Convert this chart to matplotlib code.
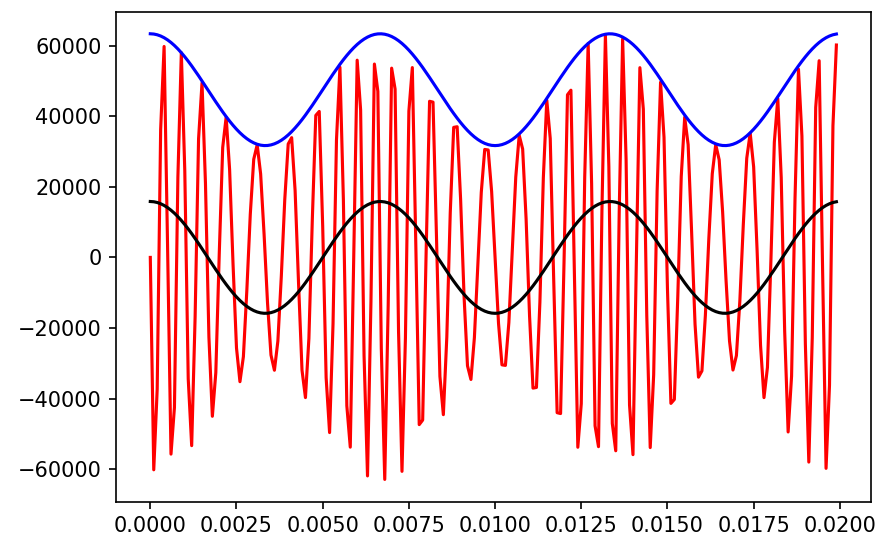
import numpy as np
import matplotlib
matplotlib.use("Agg")
import matplotlib.pyplot as plt

# 信号のパラメータ
fs = 10000          # sample rate [Hz]
duration = 0.02     # [s]
fc = 1500           # carrier [Hz]
fm = 150            # message [Hz]
Ac = 47500          # carrier amplitude
Am = 15833          # message amplitude
beta = 3.33         # phase deviation

t = np.arange(0, duration, 1 / fs)
message = Am * np.cos(2 * np.pi * fm * t)
envelope = Ac + message
signal = -envelope * np.sin(2 * np.pi * fc * t + beta * np.sin(2 * np.pi * fm * t))

plt.figure(figsize=(878 / 150, 542 / 150), dpi=150)
plt.plot(t, signal, color='r')
plt.plot(t, envelope, color='b')
plt.plot(t, message, color='k')
plt.xticks(np.arange(0, 0.0201, 0.0025))
plt.subplots_adjust(left=116 / 878, right=870.7 / 878, bottom=1 - 501.7 / 542, top=1 - 11.5 / 542)
plt.savefig("out.png", dpi=150)
